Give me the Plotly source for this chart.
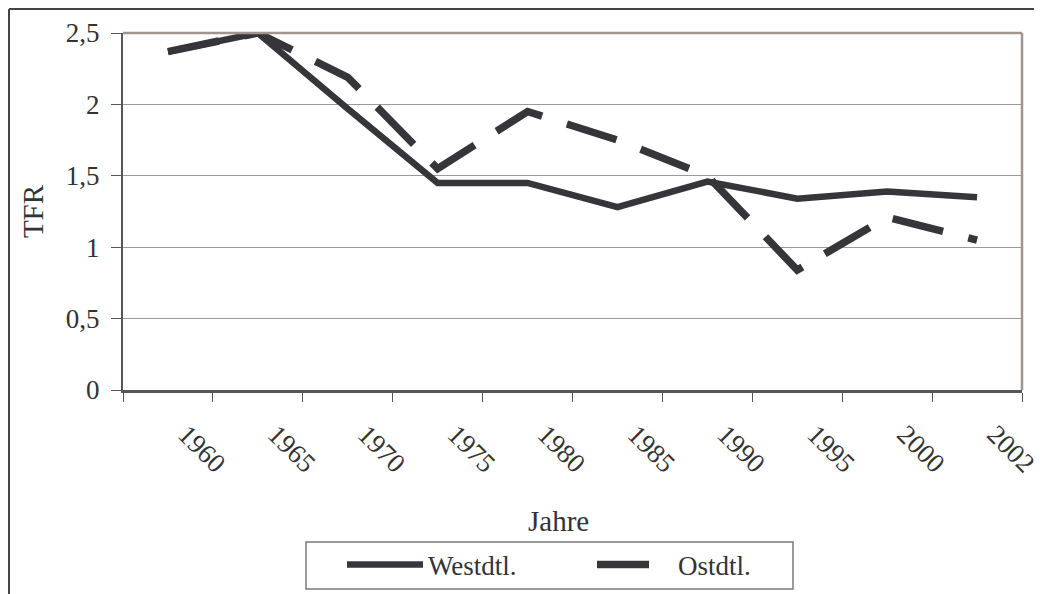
import plotly.graph_objects as go

years = ["1960", "1965", "1970", "1975", "1980", "1985", "1990", "1995", "2000", "2002"]
west = [2.37, 2.50, 1.97, 1.45, 1.45, 1.28, 1.46, 1.34, 1.39, 1.35]
east = [2.37, 2.50, 2.19, 1.55, 1.95, 1.75, 1.50, 0.84, 1.21, 1.05]
y_ticks = [0, 0.5, 1, 1.5, 2, 2.5]
y_labels = ["0", "0,5", "1", "1,5", "2", "2,5"]

FONT = "Liberation Serif"
INK = "#36353a"
TXT = "#333333"

fig = go.Figure()
fig.add_trace(go.Scatter(x=years, y=west, name="Westdtl.", mode="lines",
                         line=dict(color=INK, width=6.5)))
fig.add_trace(go.Scatter(x=years, y=east, name="Ostdtl.", mode="lines",
                         line=dict(color=INK, width=7.5, dash="52px,26px")))

OFF = 8  # page body margin
W, H = 1042 - OFF, 594 - OFF
L, R, T, B = 123 - OFF, 20, 33 - OFF, 204
pw, ph = W - L - R, H - T - B


def px(sx):
    return (sx - OFF - L) / pw


def py(sy):
    return (H - B - (sy - OFF)) / ph


fig.update_layout(
    width=W, height=H,
    margin=dict(l=L, r=R, t=T, b=B, autoexpand=False),
    paper_bgcolor="white", plot_bgcolor="white",
    font=dict(family=FONT, size=27, color=TXT),
    showlegend=True,
    legend=dict(orientation="h", x=px(342), xanchor="left", y=py(565), yanchor="middle",
                borderwidth=0, bgcolor="rgba(0,0,0,0)",
                font=dict(size=27, family=FONT, color=TXT),
                entrywidth=159, itemwidth=76),
    xaxis=dict(type="category", range=[-0.5, 9.5], tickson="boundaries",
               ticks="outside", ticklen=9, tickcolor="#555555", tickwidth=1,
               showline=True, linecolor="#5a5555", linewidth=2.5,
               showgrid=False, tickangle=45, ticklabelstandoff=15, ticklabelshift=18,
               automargin=False,
               tickfont=dict(size=27, family=FONT, color=TXT)),
    yaxis=dict(range=[0, 2.5], tickvals=y_ticks, ticktext=y_labels,
               ticks="outside", ticklen=10, tickcolor="#555555", tickwidth=1,
               showline=True, linecolor="#5a5555", linewidth=2,
               showgrid=True, gridcolor="#9a9a9a", gridwidth=1.2,
               zeroline=False, automargin=False, ticklabelstandoff=6,
               title=dict(text="TFR", font=dict(size=29, family=FONT, color=TXT), standoff=14),
               tickfont=dict(size=27, family=FONT, color=TXT)),
    annotations=[dict(text="Jahre", xref="paper", yref="paper", x=px(558), y=py(503),
                      xanchor="center", yanchor="top", showarrow=False,
                      font=dict(size=29, family=FONT, color=TXT))],
    shapes=[
        dict(type="line", xref="paper", yref="paper", x0=0, x1=1, y0=1, y1=1,
             line=dict(color="#a0958f", width=2.5)),
        dict(type="line", xref="paper", yref="paper", x0=1, x1=1, y0=0, y1=1,
             line=dict(color="#a0958f", width=2.5)),
        dict(type="line", xref="paper", yref="paper", x0=px(9), x1=px(1042),
             y0=py(9), y1=py(9), line=dict(color="#444444", width=2)),
        dict(type="line", xref="paper", yref="paper", x0=px(9), x1=px(9),
             y0=py(9), y1=py(594), line=dict(color="#444444", width=2)),
        dict(type="rect", xref="paper", yref="paper", x0=px(306), x1=px(793),
             y0=py(542), y1=py(589), line=dict(color="#7a7a7a", width=1.5),
             fillcolor="rgba(0,0,0,0)", layer="below"),
    ],
)

fig.write_html("out.html")
